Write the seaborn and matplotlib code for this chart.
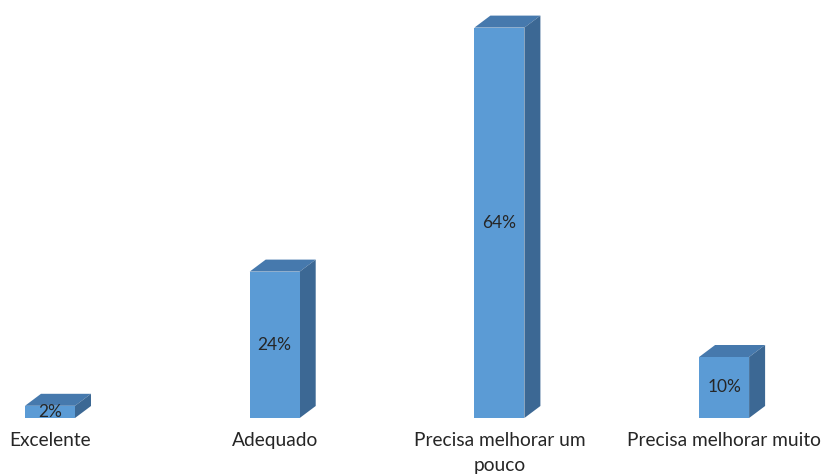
import matplotlib
matplotlib.use("Agg")
import matplotlib.pyplot as plt
from matplotlib.patches import Polygon
import seaborn as sns
import pandas as pd

categories = ["Excelente", "Adequado", "Precisa melhorar um\npouco", "Precisa melhorar muito"]
values = [2, 24, 64, 10]
value_labels = ["2%", "24%", "64%", "10%"]

front_color = "#5B9BD5"
top_color = "#4679AD"
side_color = "#3C6894"
text_color = "#262626"

sns.set_theme(style="white")
plt.rcParams["font.family"] = ["Lato", "DejaVu Sans"]

W, H = 822, 475
fig = plt.figure(figsize=(W / 100, H / 100), dpi=100)
ax = fig.add_axes([0, 0, 1, 1])

# pixel layout: category spacing, baseline and scale
step_px = 224.7
first_px = 50
base_px = 418
px_per_unit = 6.1
bar_w = 50 / step_px

df = pd.DataFrame({"cat": categories, "val": values})
sns.barplot(data=df, x="cat", y="val", color=front_color, width=bar_w,
            saturation=1, ax=ax, zorder=3, linewidth=0)

ax.set_xlim(-first_px / step_px, (W - first_px) / step_px)
ax.set_ylim(-(H - base_px) / px_per_unit, base_px / px_per_unit)
ax.axis("off")

dx = 16 / step_px
dy = 12 / px_per_unit

for i, p in enumerate(ax.patches):
    x0 = p.get_x()
    x1 = x0 + p.get_width()
    h = p.get_height()
    top = Polygon([(x0, h), (x0 + dx, h + dy), (x1 + dx, h + dy), (x1, h)],
                  closed=True, facecolor=top_color, edgecolor="none", zorder=2)
    side = Polygon([(x1, 0), (x1 + dx, dy), (x1 + dx, h + dy), (x1, h)],
                   closed=True, facecolor=side_color, edgecolor="none", zorder=2)
    ax.add_patch(top)
    ax.add_patch(side)
    ax.text(x0 + p.get_width() / 2, h / 2, value_labels[i], ha="center",
            va="center", fontsize=12.5, color=text_color, zorder=4)

for i, c in enumerate(categories):
    ax.text(i, -(432 - base_px) / px_per_unit, c, ha="center", va="top",
            fontsize=13.8, color=text_color, linespacing=1.55)

fig.savefig("out.png", dpi=100, facecolor="white")
